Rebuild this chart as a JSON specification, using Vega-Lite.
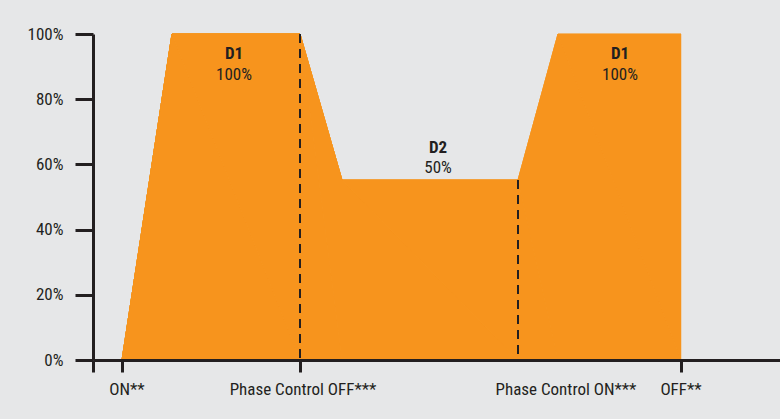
{
  "$schema": "https://vega.github.io/schema/vega-lite/v6.json",
  "width": 687,
  "height": 326,
  "autosize": {"type": "none"},
  "padding": {"left": 93, "top": 34, "right": 0, "bottom": 59},
  "background": "#e6e7e8",
  "config": {
    "view": {"stroke": null},
    "font": "Liberation Sans Narrow, Roboto Condensed, DejaVu Sans Condensed, sans-serif"
  },
  "datasets": {
    "profile": [
      {"t": 29, "level": 0, "o": 1},
      {"t": 79, "level": 1, "o": 2},
      {"t": 207, "level": 1, "o": 3},
      {"t": 249, "level": 0.552, "o": 4},
      {"t": 425, "level": 0.552, "o": 5},
      {"t": 465, "level": 1, "o": 6},
      {"t": 588, "level": 1, "o": 7},
      {"t": 588, "level": 0, "o": 8}
    ],
    "markers": [
      {"t": 207, "top": 1, "base": 0},
      {"t": 425, "top": 0.552, "base": 0}
    ],
    "heads": [
      {"t": 141, "level": 0.939, "text": "D1"},
      {"t": 345, "level": 0.650, "text": "D2"},
      {"t": 527, "level": 0.939, "text": "D1"}
    ],
    "amounts": [
      {"t": 141, "level": 0.874, "text": "100%"},
      {"t": 345, "level": 0.589, "text": "50%"},
      {"t": 527, "level": 0.874, "text": "100%"}
    ],
    "events": [
      {"t": 34, "level": 0, "label": "ON**"},
      {"t": 210, "level": 0, "label": "Phase Control OFF***"},
      {"t": 473, "level": 0, "label": "Phase Control ON***"},
      {"t": 588, "level": 0, "label": "OFF**"}
    ]
  },
  "layer": [
    {
      "data": {"name": "profile"},
      "mark": {"type": "area", "color": "#f7941d", "interpolate": "linear", "stroke": "#f7941d", "strokeWidth": 0.5},
      "encoding": {
        "x": {
          "field": "t", "type": "quantitative",
          "scale": {"domain": [0, 687], "nice": false, "zero": false},
          "axis": {
            "values": [0, 29, 207, 588],
            "labels": false,
            "title": null,
            "grid": false,
            "zindex": 1,
            "tickSize": 12,
            "tickWidth": 3,
            "tickColor": "#231f20",
            "domainWidth": 3,
            "domainColor": "#231f20"
          }
        },
        "y": {
          "field": "level", "type": "quantitative",
          "scale": {"domain": [0, 1], "nice": false},
          "axis": {
            "values": [0, 0.2, 0.4, 0.6, 0.8, 1],
            "format": ".0%",
            "title": null,
            "grid": false,
            "zindex": 1,
            "tickSize": 18,
            "tickWidth": 3,
            "tickColor": "#231f20",
            "domainWidth": 3,
            "domainColor": "#231f20",
            "labelFontSize": 17,
            "labelColor": "#231f20",
            "labelPadding": 12
          }
        },
        "order": {"field": "o", "type": "quantitative"}
      }
    },
    {
      "data": {"name": "profile"},
      "mark": {"type": "area", "color": "#f7941d", "interpolate": "linear"},
      "encoding": {
        "x": {"field": "t", "type": "quantitative"},
        "y": {"field": "level", "type": "quantitative"},
        "order": {"field": "o", "type": "quantitative"}
      }
    },
    {
      "data": {"name": "markers"},
      "mark": {"type": "rule", "color": "#231f20", "strokeWidth": 2, "strokeDash": [9, 6]},
      "encoding": {
        "x": {"field": "t", "type": "quantitative"},
        "y": {"field": "top", "type": "quantitative"},
        "y2": {"field": "base"}
      }
    },
    {
      "data": {"name": "heads"},
      "mark": {"type": "text", "fontSize": 17, "fontWeight": "bold", "color": "#231f20", "baseline": "middle", "align": "center"},
      "encoding": {
        "x": {"field": "t", "type": "quantitative"},
        "y": {"field": "level", "type": "quantitative"},
        "text": {"field": "text", "type": "nominal"}
      }
    },
    {
      "data": {"name": "amounts"},
      "mark": {"type": "text", "fontSize": 17, "color": "#231f20", "baseline": "middle", "align": "center"},
      "encoding": {
        "x": {"field": "t", "type": "quantitative"},
        "y": {"field": "level", "type": "quantitative"},
        "text": {"field": "text", "type": "nominal"}
      }
    },
    {
      "data": {"name": "events"},
      "mark": {"type": "text", "fontSize": 17, "color": "#231f20", "baseline": "middle", "align": "center", "dy": 30},
      "encoding": {
        "x": {"field": "t", "type": "quantitative"},
        "y": {"field": "level", "type": "quantitative"},
        "text": {"field": "label", "type": "nominal"}
      }
    }
  ]
}
